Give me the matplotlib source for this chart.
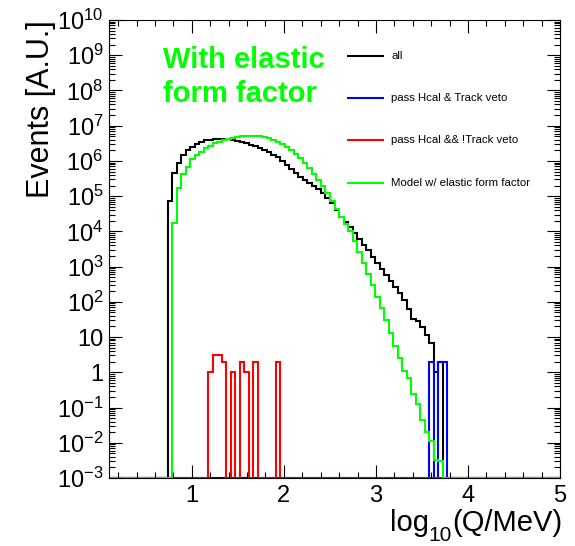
import numpy as np
import matplotlib
matplotlib.use("Agg")
import matplotlib.pyplot as plt
from matplotlib.ticker import FixedLocator, MultipleLocator, LogLocator, FuncFormatter, NullFormatter
from matplotlib.lines import Line2D

plt.rcParams['font.family'] = ['Liberation Sans', 'DejaVu Sans']
plt.rcParams['mathtext.fontset'] = 'custom'
plt.rcParams['mathtext.rm'] = 'Liberation Sans'
plt.rcParams['mathtext.it'] = 'Liberation Sans:italic'
plt.rcParams['mathtext.bf'] = 'Liberation Sans:bold'

# Histogram binning: 100 bins in log10(Q/MeV) from 0.1 to 5
x_lo, x_hi, n_bins = 0.1, 5.0, 100
y_lo, y_hi = 1e-3, 1e10

# "all" events, bins 13..73
all_first_bin = 13
all_counts = [7.2e4, 4.4e5, 8.9e5, 1.45e6, 2.0e6, 2.5e6, 3.0e6, 3.5e6, 3.8e6, 4.0e6,
              4.2e6, 4.2e6, 4.2e6, 4.1e6, 3.9e6, 3.7e6, 3.5e6, 3.2e6, 2.9e6, 2.6e6,
              2.3e6, 2.0e6, 1.8e6, 1.5e6, 1.26e6, 1.0e6, 7.8e5, 6.0e5, 4.6e5, 3.5e5,
              2.8e5, 2.3e5, 1.95e5, 1.6e5, 1.26e5, 9.1e4, 6.3e4, 4.0e4, 2.6e4, 1.86e4,
              1.3e4, 9.1e3, 6.2e3, 4.2e3, 3.0e3, 1.9e3, 1.26e3, 850, 560, 380,
              260, 180, 112, 63, 32, 28, 19.5, 11.5, 6.6, 1, 2]

# pass Hcal & Track veto, bins 71..74
veto_first_bin = 71
veto_counts = [2, 0, 2, 2]

# pass Hcal && !Track veto, bins 22..37
noveto_first_bin = 22
noveto_counts = [1, 3, 3, 2, 0, 1, 0, 2, 1, 0, 2, 0, 0, 0, 0, 2]

# Model with elastic form factor, bins 14..73
model_first_bin = 14
model_counts = [1.7e4, 1.7e5, 4.2e5, 6.9e5, 1.12e6, 1.5e6, 1.8e6, 2.3e6, 2.7e6, 3.2e6,
                3.5e6, 3.9e6, 4.2e6, 4.6e6, 4.9e6, 5.0e6, 5.1e6, 5.1e6, 5.1e6, 5.0e6,
                4.8e6, 4.4e6, 4.0e6, 3.5e6, 3.0e6, 2.5e6, 2.0e6, 1.6e6, 1.2e6, 8.9e5,
                6.3e5, 4.2e5, 2.8e5, 1.9e5, 1.2e5, 7.1e4, 4.2e4, 2.6e4, 1.66e4, 1.0e4,
                5.2e3, 2.6e3, 1.3e3, 630, 300, 140, 66, 30, 13, 5.6,
                2.5, 1.1, 0.68, 0.25, 0.126, 0.045, 0.02, 0.011, 0.0032, 0.003]

labels = ["all", "pass Hcal & Track veto", "pass Hcal && !Track veto",
          "Model w/ elastic form factor"]
colors = ["black", "#0000ff", "#ff0000", "#00ff00"]

edges = np.linspace(x_lo, x_hi, n_bins + 1)


def full_hist(first, counts):
    h = np.zeros(n_bins)
    h[first:first + len(counts)] = counts
    return np.clip(h, y_lo, None)


series = [(all_first_bin, all_counts), (veto_first_bin, veto_counts),
          (noveto_first_bin, noveto_counts), (model_first_bin, model_counts)]

W, H = 575, 546
fig = plt.figure(figsize=(W / 100, H / 100), dpi=100)
ax = fig.add_axes([109 / W, 1 - 478 / H, (560 - 109) / W, (478 - 20) / H])

for (first, counts), c in zip(series, colors):
    ax.stairs(full_hist(first, counts), edges, baseline=None, color=c, lw=1.5)

ax.set_yscale('log')
ax.set_xlim(x_lo, x_hi)
ax.set_ylim(y_lo, y_hi)

ax.xaxis.set_major_locator(FixedLocator([1, 2, 3, 4, 5]))
ax.xaxis.set_minor_locator(MultipleLocator(0.2))
ax.xaxis.set_major_formatter(FuncFormatter(lambda v, p: f"{v:.0f}"))

ax.yaxis.set_major_locator(LogLocator(base=10, numticks=30))
ax.yaxis.set_minor_locator(LogLocator(base=10, subs=np.arange(2, 10), numticks=200))
ax.yaxis.set_minor_formatter(NullFormatter())


def ylab(v, p):
    e = int(round(np.log10(v)))
    if e == 0:
        return "1"
    if e == 1:
        return "10"
    return r"$10^{%d}$" % e


ax.yaxis.set_major_formatter(FuncFormatter(ylab))

ax.tick_params(which='both', direction='in', top=True, right=True, width=0.8,
               labelsize=17, colors='black')
ax.tick_params(which='major', length=9.4)
ax.tick_params(which='minor', length=4.6)
ax.tick_params(axis='x', which='major', pad=5)
ax.tick_params(axis='y', which='major', pad=4)
for s in ax.spines.values():
    s.set_linewidth(0.8)

ax.set_ylabel("Events [A.U.]", fontsize=22, loc='top')
ax.yaxis.set_label_coords(-0.118, 1.0)

# x-axis title built from pieces so the subscript sits low
renderer = fig.canvas.get_renderer()
base_y = 1 - 531 / H
sub_y = 1 - 541 / H
t3 = fig.text(562 / W, base_y, "(Q/MeV)", ha='right', va='baseline', fontsize=21)
x3 = t3.get_window_extent(renderer).x0 / W
t2 = fig.text(x3, sub_y, "10", ha='right', va='baseline', fontsize=15)
x2 = t2.get_window_extent(renderer).x0 / W
fig.text(x2, base_y, "log", ha='right', va='baseline', fontsize=21)

fig.text(163 / W, 1 - 68.3 / H, "With elastic", color="#00ff00", fontsize=21,
         fontweight='bold', va='baseline', ha='left')
fig.text(163 / W, 1 - 101.7 / H, "form factor", color="#00ff00", fontsize=21,
         fontweight='bold', va='baseline', ha='left')

# legend entries
leg_y = [56, 98, 140, 183]
for lab, c, yy in zip(labels, colors, leg_y):
    fig.add_artist(Line2D([348 / W, 383 / W], [1 - yy / H, 1 - yy / H],
                          color=c, lw=1.5, transform=fig.transFigure))
    fig.text(391 / W, 1 - yy / H, lab, fontsize=8.2, va='center', ha='left')

fig.savefig("out.png", dpi=100)
